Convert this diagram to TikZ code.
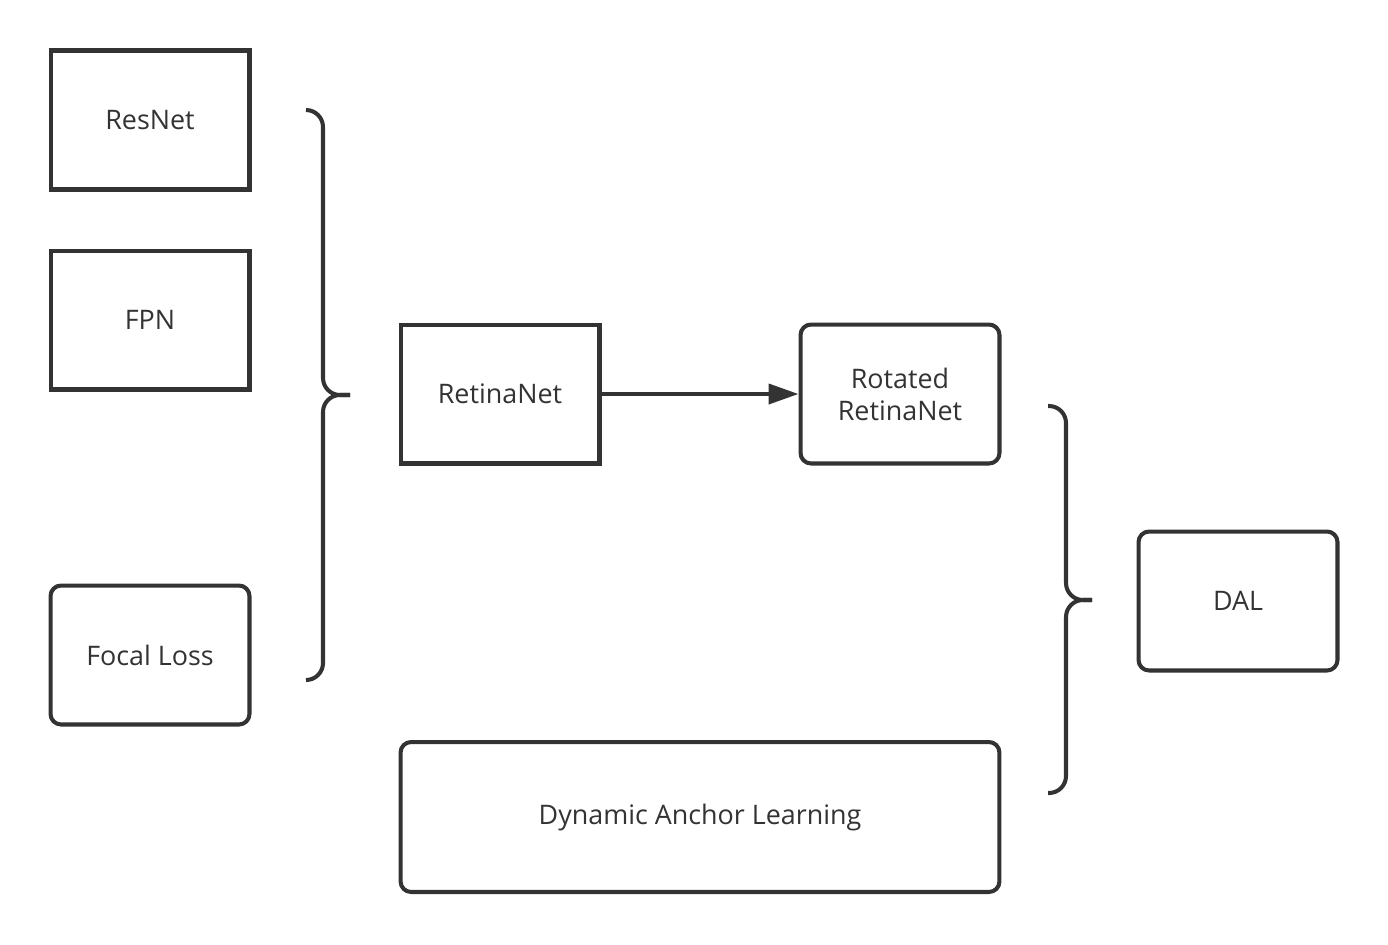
\documentclass[tikz,border=0pt]{standalone}
\usepackage{fontspec}
\setmainfont{Open Sans}
\usetikzlibrary{arrows.meta}
\definecolor{ink}{HTML}{333333}
\tikzset{
    box/.style={draw=ink,line width=2.3pt,minimum width=3.98cm,minimum height=2.78cm,
        text=ink,font=\fontsize{15.3}{18.2}\selectfont,align=center,inner sep=0pt},
    rbox/.style={box,rounded corners=6pt},
    brace/.style={draw=ink,line width=2.3pt,rounded corners=0.34cm},
}
\begin{document}
\begin{tikzpicture}[x=0.02cm,y=-0.02cm]
        \useasboundingbox (0,0) rectangle (1388,944);
        %% Building blocks
        \node[box] (resnet) at (150,120) {ResNet};
        \node[box] (fpn) at (150,320) {FPN};
        \node[rbox] (focal) at (150,655) {Focal Loss};
        %% Detectors
        \node[box] (retina) at (500,394) {RetinaNet};
        \node[rbox] (rotated) at (900,394) {Rotated\\RetinaNet};
        \node[rbox,minimum width=11.98cm,minimum height=3cm] (dyn) at (700,817)
            {Dynamic Anchor Learning};
        \node[rbox] (dal) at (1238,601) {DAL};
        \draw[ink,line width=2.3pt,-{Triangle[length=0.6cm,width=0.4cm]}] (retina) -- (rotated);
        %% Left brace
        \coordinate (lb1) at (306,110);
        \coordinate (lb2) at (350,395);
        \coordinate (lb3) at (306,680);
        \draw[brace] (lb1) -- (323,110) -- (323,395) -- (lb2);
        \draw[brace] (lb2) -- (323,395) -- (323,680) -- (lb3);
        %% Right brace
        \coordinate (rb1) at (1048,406);
        \coordinate (rb2) at (1092,600);
        \coordinate (rb3) at (1048,793);
        \draw[brace] (rb1) -- (1066,406) -- (1066,600) -- (rb2);
        \draw[brace] (rb2) -- (1066,600) -- (1066,793) -- (rb3);
    \end{tikzpicture}
\end{document}
